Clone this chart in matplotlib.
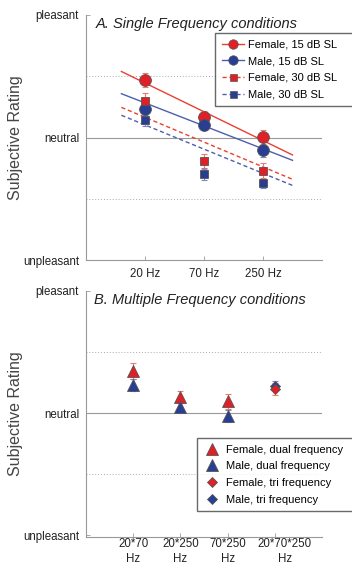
import numpy as np
import matplotlib
matplotlib.use("Agg")
import matplotlib.pyplot as plt
from matplotlib.transforms import ScaledTranslation

plt.rcParams['font.family'] = ['Liberation Sans', 'DejaVu Sans']

# panel A: single frequency
single_labels = ['20 Hz', '70 Hz', '250 Hz']
female15 = [0.94, 0.34, 0.01]
female15_err = [0.12, 0.10, 0.12]
male15 = [0.47, 0.20, -0.20]
male15_err = [0.10, 0.08, 0.12]
female30 = [0.60, -0.39, -0.54]
female30_err = [0.12, 0.12, 0.12]
male30 = [0.29, -0.60, -0.75]
male30_err = [0.10, 0.10, 0.08]
# trend lines (slope, intercept)
fit_slope = [-0.47, -0.375, -0.405, -0.395]
fit_intercept = [1.36, 0.94, 0.735, 0.60]

# panel B: multiple frequency
multi_labels = ['20*70\nHz', '20*250\nHz', '70*250\nHz', '20*70*250\nHz']
female_dual = [0.69, 0.26, 0.19]
female_dual_err = [0.13, 0.10, 0.12]
male_dual = [0.46, 0.10, -0.05]
male_dual_err = [0.10, 0.07, 0.10]
female_tri = [0.39]
female_tri_err = [0.10]
male_tri = [0.45]
male_tri_err = [0.08]

red = '#e01f26'
blue = '#283e92'
red_line = '#ea4032'
blue_line = '#4d5fab'
red_err = '#f07a6a'
blue_err = '#7d88c4'
edge = '#555555'
ytick_labels = ['unpleasant', 'neutral', 'pleasant']

fig = plt.figure(figsize=(3.52, 5.66), dpi=100)
ax1 = fig.add_axes([86/352, 1-260/566, 236/352, 245/566])
ax2 = fig.add_axes([86/352, 1-537/566, 236/352, 246/566])


def style_axes(ax, ylo):
    ax.set_ylim(ylo, 2)
    ax.set_yticks([-2, 0, 2])
    ax.set_yticklabels(ytick_labels, fontsize=8.3, color='#222222')
    for s in ['top', 'right']:
        ax.spines[s].set_visible(False)
    for s in ['left', 'bottom']:
        ax.spines[s].set_color('#999999')
        ax.spines[s].set_linewidth(0.8)
    ax.tick_params(direction='in', length=3, color='#999999', width=0.6)
    ax.tick_params(axis='y', pad=5)
    ax.axhline(0, color='#999999', lw=0.8, zorder=0)
    for yv in [1, -1]:
        ax.axhline(yv, color='#aaaaaa', lw=0.7, ls=(0, (1, 2)), zorder=0)
    ax.set_ylabel('Subjective Rating', fontsize=11.5, color='#444444')
    ax.yaxis.set_label_coords(-0.265, 0.5)


# ---- panel A ----
x1 = np.arange(1, 4)
xl = np.array([0.6, 3.5])
series = [
    (female15, female15_err, red, red_line, red_err, 'o', 8.5, '-', 'Female, 15 dB SL'),
    (male15, male15_err, blue, blue_line, blue_err, 'o', 8.5, '-', 'Male, 15 dB SL'),
    (female30, female30_err, red, red_line, red_err, 's', 6.3, (0, (3, 2)), 'Female, 30 dB SL'),
    (male30, male30_err, blue, blue_line, blue_err, 's', 6.3, (0, (3, 2)), 'Male, 30 dB SL'),
]
handles = []
for i, (vals, err, fc, lc, ec, mk, ms, ls, lab) in enumerate(series):
    ax1.plot(xl, fit_slope[i] * xl + fit_intercept[i], color=lc, lw=1, ls=ls, zorder=2)
    ax1.errorbar(x1, vals, yerr=err, fmt='none', ecolor=ec, elinewidth=0.8,
                 capsize=2.5, capthick=0.8, zorder=3)
    ax1.plot(x1, vals, ls='none', marker=mk, ms=ms, mfc=fc, mec=edge, mew=0.6, zorder=4)
    h, = ax1.plot([], [], color=lc, lw=1, ls=ls, marker=mk, ms=ms * 0.8,
                  mfc=fc, mec=edge, mew=0.5, label=lab)
    handles.append(h)

style_axes(ax1, -2)
ax1.set_xlim(0, 4)
ax1.set_xticks(x1)
ax1.set_xticklabels(single_labels, fontsize=8.3, color='#222222')
ax1.tick_params(axis='x', pad=6)
ax1.text(0.17, 1.97, 'A. Single Frequency conditions', fontsize=10.5, style='italic',
         color='#222222', ha='left', va='top')
leg1 = fig.legend(handles=handles, loc='upper left',
                  bbox_to_anchor=(215/352, 0, 150/352, 1-33/566), mode='expand',
                  fontsize=8, frameon=True, fancybox=False, edgecolor='#444444',
                  handlelength=2.0, handletextpad=0.4, labelspacing=0.6,
                  borderpad=0.6, borderaxespad=0)
leg1.get_frame().set_linewidth(1.0)

# ---- panel B ----
x2 = np.arange(1, 5)
ax2.errorbar(x2[:3], female_dual, yerr=female_dual_err, fmt='none', ecolor=red_err,
             elinewidth=0.8, capsize=2.5, capthick=0.8, zorder=3)
ax2.errorbar(x2[:3], male_dual, yerr=male_dual_err, fmt='none', ecolor=blue_err,
             elinewidth=0.8, capsize=2.5, capthick=0.8, zorder=3)
ax2.errorbar(x2[3:], male_tri, yerr=male_tri_err, fmt='none', ecolor=blue_err,
             elinewidth=0.8, capsize=2.5, capthick=0.8, zorder=3)
ax2.errorbar(x2[3:], female_tri, yerr=female_tri_err, fmt='none', ecolor=red_err,
             elinewidth=0.8, capsize=2.5, capthick=0.8, zorder=3)
h1, = ax2.plot(x2[:3], female_dual, ls='none', marker='^', ms=8.5, mfc=red, mec=edge,
               mew=0.6, zorder=4, label='Female, dual frequency')
h2, = ax2.plot(x2[:3], male_dual, ls='none', marker='^', ms=8.5, mfc=blue, mec=edge,
               mew=0.6, zorder=5, label='Male, dual frequency')
h4, = ax2.plot(x2[3:], male_tri, ls='none', marker='D', ms=5.5, mfc=blue, mec=edge,
               mew=0.6, zorder=4, label='Male, tri frequency')
h3, = ax2.plot(x2[3:], female_tri, ls='none', marker='D', ms=5.5, mfc=red, mec=edge,
               mew=0.6, zorder=5, label='Female, tri frequency')

style_axes(ax2, -2.03)
ax2.set_xlim(0, 5)
ax2.set_xticks(x2)
ax2.set_xticklabels(multi_labels, fontsize=8.3, color='#222222', linespacing=1.25)
ax2.tick_params(axis='x', pad=1)
# last label sits a little right of its tick in the original
last = ax2.get_xticklabels()[-1]
last.set_transform(last.get_transform() + ScaledTranslation(10/100, 0, fig.dpi_scale_trans))
ax2.text(0.17, 1.97, 'B. Multiple Frequency conditions', fontsize=10.5, style='italic',
         color='#222222', ha='left', va='top')
leg2 = fig.legend(handles=[h1, h2, h3, h4], loc='upper left',
                  bbox_to_anchor=(197/352, 0, 156/352, 1-438/566), mode='expand',
                  fontsize=8, frameon=True,
                  fancybox=False, edgecolor='#444444', handlelength=1.5,
                  handletextpad=0.5, labelspacing=0.6, borderpad=0.6, borderaxespad=0)
leg2.get_frame().set_linewidth(1.0)

fig.savefig('out.png', dpi=100)
